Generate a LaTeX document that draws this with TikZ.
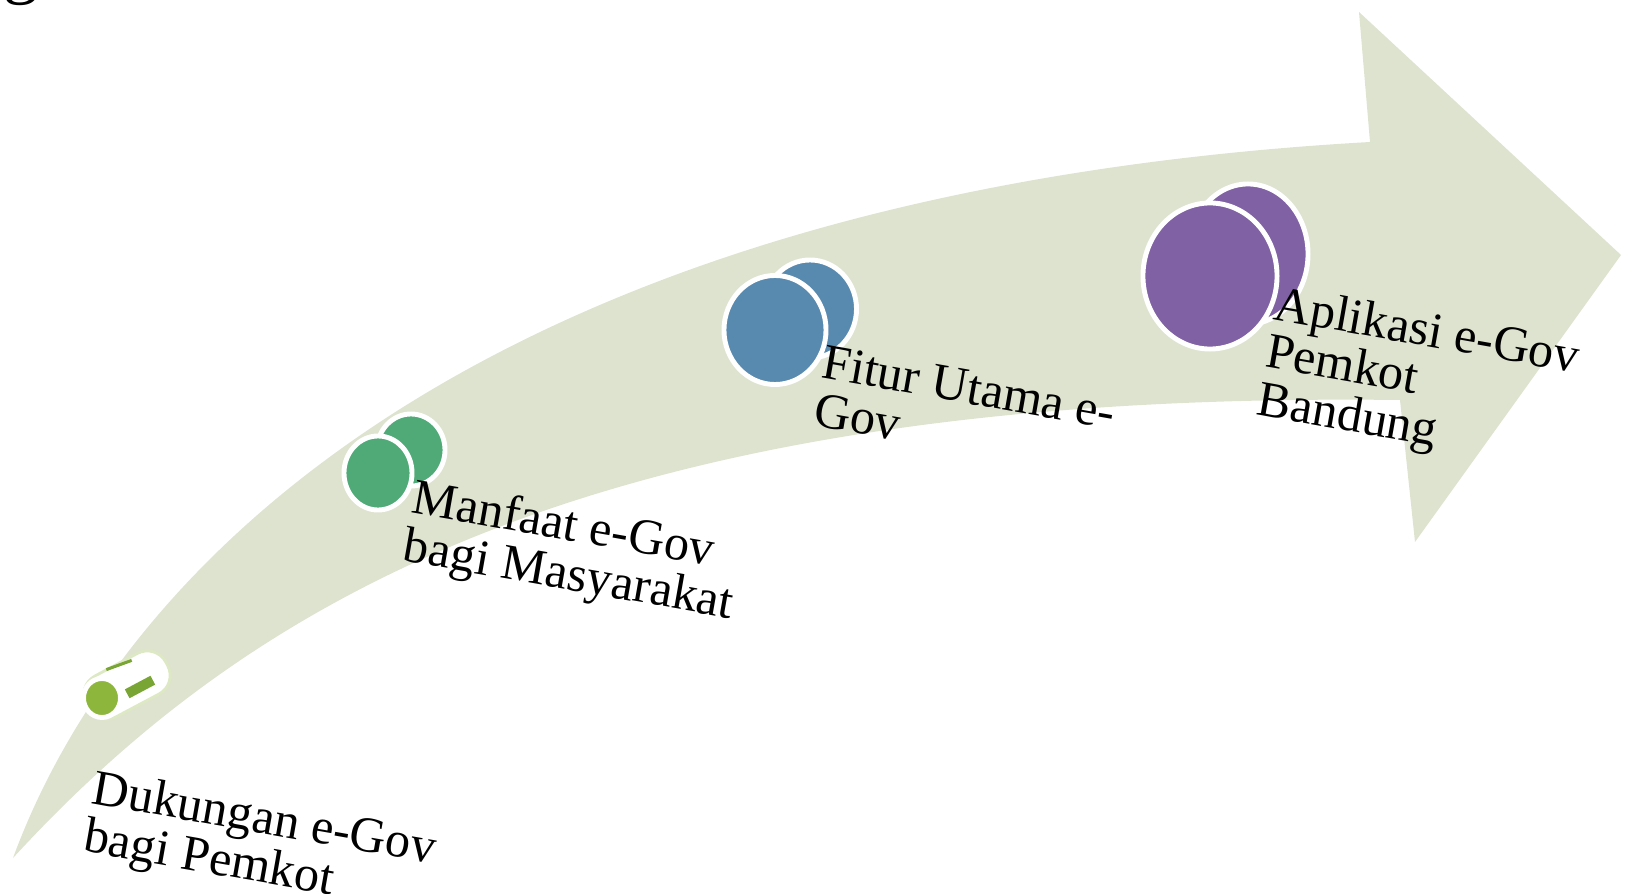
\documentclass[tikz,border=0pt]{standalone}
\usepackage{fontspec}
\setmainfont{Liberation Serif}
\usetikzlibrary{shapes.geometric}

\begin{document}
\begin{tikzpicture}[x=0.01cm, y=-0.01cm,
  disc/.style={ellipse, draw=white, line width=1.4pt, inner sep=0pt},
  lbl/.style={anchor=north west, inner sep=0pt, align=left, rotate=-10,
    font=\fontsize{14.3}{13.8}\selectfont}]
% Colors for the arrow and the steps
\definecolor{sage}{RGB}{221,227,206}
\definecolor{lime}{RGB}{141,182,60}
\definecolor{limedark}{RGB}{120,165,52}
\definecolor{jade}{RGB}{80,170,120}
\definecolor{steel}{RGB}{88,137,175}
\definecolor{plum}{RGB}{128,97,164}

\useasboundingbox (0,0) rectangle (1629,894);

% Cut-off letter at the top edge
\node[anchor=base west, inner sep=0pt, font=\fontsize{20}{20}\selectfont] (gcut) at (3,-9) {g};

% Curved arrow
\fill[sage] (13,858) .. controls (130,540) and (520,190) .. (1370,142)
  -- (1359,12) -- (1621,255) -- (1415,542)
  -- (1400,400) .. controls (600,390) and (250,600) .. (13,858) -- cycle;

% Step 1: small cylinder
\node[rectangle, rounded corners=0.21cm, minimum width=0.9cm, minimum height=0.46cm, rotate=28, fill=white, draw=lime!30, line width=0.8pt] (cyl) at (127,685) {};
\node[disc, fill=lime, minimum width=0.37cm, minimum height=0.39cm] (limefront) at (102,698) {};
\node[rectangle, fill=limedark, minimum width=0.29cm, minimum height=0.1cm, inner sep=0pt, rotate=28] (limebar) at (140,687) {};
\node[rectangle, fill=limedark, minimum width=0.27cm, minimum height=0.03cm, inner sep=0pt, rotate=20] (limeline) at (119,665) {};

% Step 2
\node[disc, fill=jade, minimum width=0.68cm, minimum height=0.72cm] (jadeback) at (411,450) {};
\node[disc, fill=jade, minimum width=0.68cm, minimum height=0.74cm] (jadefront) at (378,473) {};

% Step 3
\node[disc, fill=steel, minimum width=0.93cm, minimum height=0.98cm] (steelback) at (810,309) {};
\node[disc, fill=steel, minimum width=1.02cm, minimum height=1.09cm] (steelfront) at (775,330) {};

% Step 4
\node[disc, fill=plum, minimum width=1.2cm, minimum height=1.4cm] (plumback) at (1248,254) {};
\node[disc, fill=plum, minimum width=1.34cm, minimum height=1.46cm] (plumfront) at (1210,276) {};

% Labels
\node[lbl] (dukungan) at (96,768) {Dukungan e-Gov\\bagi Pemkot};
\node[lbl] (manfaat) at (416,477) {Manfaat e-Gov\\bagi Masyarakat};
\node[lbl] (fitur) at (826,344) {Fitur Utama e-\\Gov};
\node[lbl] (aplikasi) at (1278,284) {Aplikasi e-Gov\\Pemkot\\Bandung};

\end{tikzpicture}
\end{document}
